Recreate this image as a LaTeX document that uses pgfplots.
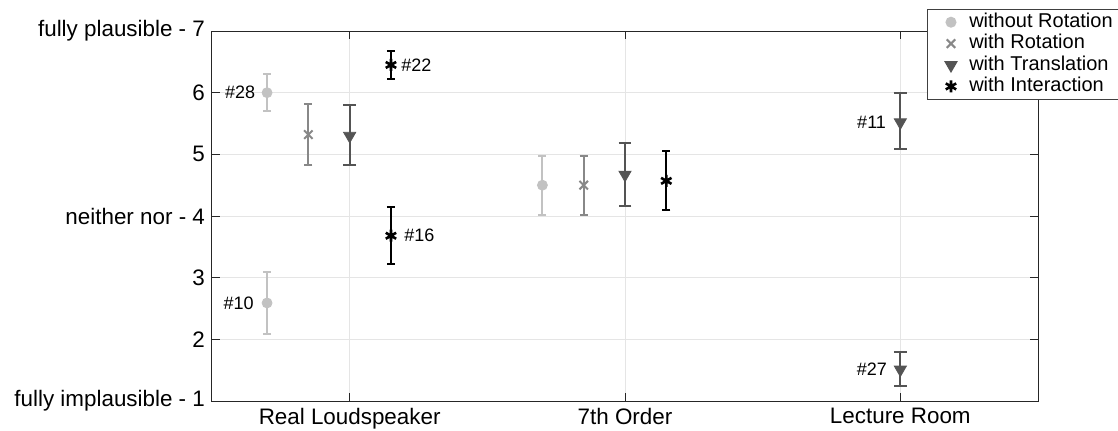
\documentclass[border=0pt]{standalone}
\usepackage{fontspec}
\setmainfont{Liberation Sans}
\usepackage{pgfplots}
\pgfplotsset{compat=1.18}
\usepackage{pgfplotstable}
\definecolor{cA}{RGB}{194,194,194}
\definecolor{cB}{RGB}{136,136,136}
\definecolor{cC}{RGB}{84,84,84}
\definecolor{cD}{RGB}{0,0,0}

\pgfplotstableread{
x y ep em
0.70 6.00 0.30 0.29
0.70 2.59 0.51 0.50
1.70 4.50 0.48 0.49
}\tA
\pgfplotstableread{
x y ep em
0.85 5.32 0.50 0.50
1.85 4.50 0.48 0.48
}\tB
\pgfplotstableread{
x y ep em
1.00 5.30 0.50 0.47
2.00 4.67 0.51 0.50
3.00 5.52 0.48 0.44
3.00 1.51 0.28 0.27
}\tC
\pgfplotstableread{
x y ep em
1.15 6.45 0.22 0.23
1.15 3.68 0.47 0.46
2.15 4.57 0.48 0.48
}\tD

\begin{document}
\begin{tikzpicture}
\begin{axis}[
  scale only axis, width=413pt, height=185pt,
  xmin=0.5, xmax=3.5, ymin=1, ymax=7,
  xtick={1,2,3}, xticklabels={Real Loudspeaker,7th Order,Lecture Room},
  ytick={1,2,3,4,5,6,7},
  yticklabels={fully implausible - 1,2,3,neither nor - 4,5,6,fully plausible - 7},
  tick label style={font=\fontsize{11.2}{13}\selectfont},
  /pgf/number format/assume math mode=true,
  grid=major, major grid style={black!10, line width=0.5pt},
  tick align=inside, major tick length=4pt,
  tick style={black!85, line width=0.5pt},
  axis line style={black!85, line width=0.5pt},
  legend style={at={(axis description cs:0.8656,1.0595)}, anchor=north west,
    draw=black!75, line width=0.5pt, font=\fontsize{10}{12}\selectfont,
    inner xsep=3pt, inner ysep=1pt,
    nodes={inner ysep=0.45pt, text height=7.4pt, text depth=2.4pt}},
  legend cell align=left,
  legend image code/.code={\path[draw=none,fill=none] (-3pt,-3pt) rectangle (12.9pt,3pt);
    \draw[#1] plot coordinates {(5.75pt,0pt)};},
  clip=false,
]
\addplot[only marks, color=cA, mark=*, mark size=2.5pt,
  error bars/.cd, y dir=both, y explicit,
  error bar style={line width=1pt, cA},
  error mark options={rotate=90, mark size=2pt, line width=1pt, cA}]
  table[x=x, y=y, y error plus=ep, y error minus=em]{\tA};
\addlegendentry{without Rotation}
\addplot[only marks, color=cB, mark=x, mark size=3pt, mark options={line width=1pt},
  error bars/.cd, y dir=both, y explicit,
  error bar style={line width=1pt, cB},
  error mark options={rotate=90, mark size=2pt, line width=1pt, cB}]
  table[x=x, y=y, y error plus=ep, y error minus=em]{\tB};
\addlegendentry{with Rotation}
\addplot[only marks, color=cC, mark=triangle*, mark size=3.5pt, mark options={rotate=180},
  error bars/.cd, y dir=both, y explicit,
  error bar style={line width=1pt, cC},
  error mark options={rotate=90, mark size=3.2pt, line width=1pt, cC}]
  table[x=x, y=y, y error plus=ep, y error minus=em]{\tC};
\addlegendentry{with Translation}
\addplot[only marks, color=cD, mark=asterisk, mark size=3pt, mark options={line width=1.3pt},
  error bars/.cd, y dir=both, y explicit,
  error bar style={line width=1.1pt, cD},
  error mark options={rotate=90, mark size=2pt, line width=1pt, cD}]
  table[x=x, y=y, y error plus=ep, y error minus=em]{\tD};
\addlegendentry{with Interaction}

\tikzset{lab/.style={font=\fontsize{9}{10}\selectfont, inner sep=0pt}}
\node[lab, anchor=east] at (axis cs:0.70,6.00) [xshift=-5.8pt] {\#28};
\node[lab, anchor=east] at (axis cs:0.70,2.59) [xshift=-6.5pt] {\#10};
\node[lab, anchor=west] at (axis cs:1.15,6.45) [xshift=5pt] {\#22};
\node[lab, anchor=west] at (axis cs:1.15,3.68) [xshift=6.5pt] {\#16};
\node[lab, anchor=east] at (axis cs:3.00,5.52) [xshift=-7pt] {\#11};
\node[lab, anchor=east] at (axis cs:3.00,1.51) [xshift=-6.5pt] {\#27};
\end{axis}
\pgfresetboundingbox
\path ([shift={(-106pt,-14.5pt)}]current axis.south west) rectangle ([shift={(453pt,200.5pt)}]current axis.south west);
\end{tikzpicture}
\end{document}
